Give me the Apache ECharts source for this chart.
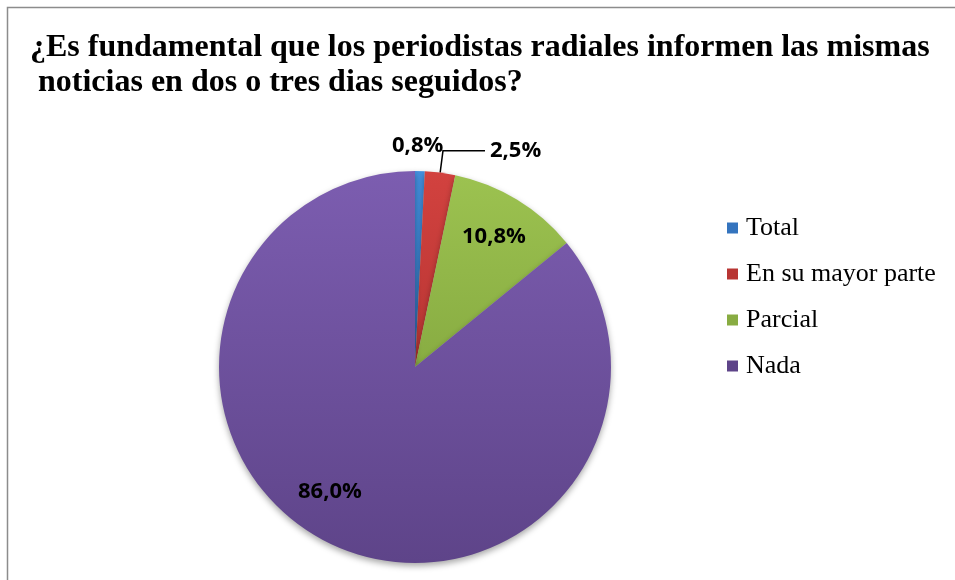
<!DOCTYPE html>
<html>
<head>
<meta charset="utf-8">
<script src="https://cdn.jsdelivr.net/npm/echarts@6/dist/echarts.min.js"></script>
<style>
  html, body { margin: 0; padding: 0; background: #fff; }
  #chart { width: 955px; height: 580px; }
</style>
</head>
<body>
<div id="chart"></div>
<script>
// datos del gráfico
var categories = ['Total', 'En su mayor parte', 'Parcial', 'Nada'];
var values = [0.8, 2.5, 10.8, 86.0];
var colorsTop = ['#4390DE', '#D2423F', '#9CC250', '#7C5DB0'];
var colorsBottom = ['#3474BE', '#B83533', '#88AC42', '#5E4489'];
// dónde va cada etiqueta: 'line' = fuera con línea guía, 'above' = encima del borde, 'inner' = dentro
var labelPlace = ['above', 'line', 'inner', 'inner'];

var chart = echarts.init(document.getElementById('chart'));

function fmt(v) {
  return v.toFixed(1).replace('.', ',') + '%';
}

var labelFont = {
  fontFamily: '"Open Sans", "Liberation Sans", sans-serif',
  fontWeight: 'bold',
  fontSize: 22,
  color: '#000'
};

function ringData(place) {
  return categories.map(function (name, i) {
    return {
      name: name,
      value: values[i],
      itemStyle: {color: 'rgba(0,0,0,0)'},
      label: {show: labelPlace[i] === place}
    };
  });
}

var pieData = categories.map(function (name, i) {
  return {
    name: name,
    value: values[i],
    itemStyle: {
      color: new echarts.graphic.LinearGradient(0, 0, 0, 1, [
        {offset: 0, color: colorsTop[i]},
        {offset: 1, color: colorsBottom[i]}
      ])
    },
    label: {show: labelPlace[i] === 'line'},
    labelLine: {show: labelPlace[i] === 'line'}
  };
});

var ringBase = {
  type: 'pie',
  center: [415, 367],
  startAngle: 90,
  clockwise: true,
  avoidLabelOverlap: false,
  silent: true,
  labelLine: {show: false}
};

var option = {
  animation: false,
  backgroundColor: '#fff',
  title: {
    text: '¿Es fundamental que los periodistas radiales informen las mismas\n noticias en dos o tres dias seguidos?',
    left: 25,
    top: 25,
    textStyle: {
      fontFamily: '"Liberation Serif", "Times New Roman", serif',
      fontWeight: 'bold',
      fontSize: 32,
      lineHeight: 35,
      color: '#000'
    }
  },
  legend: {
    orient: 'vertical',
    left: 722,
    top: 210,
    icon: 'rect',
    itemWidth: 11,
    itemHeight: 11,
    itemGap: 20,
    selectedMode: false,
    data: categories.map(function (name, i) {
      return {name: name, itemStyle: {color: colorsBottom[i]}};
    }),
    textStyle: {
      fontFamily: '"Liberation Serif", "Times New Roman", serif',
      fontSize: 26,
      lineHeight: 26,
      color: '#000',
      padding: [0, 0, 0, 3]
    }
  },
  graphic: [{
    type: 'rect',
    shape: {x: 7.5, y: 7.5, width: 1200, height: 1200},
    style: {fill: 'none', stroke: '#8c8c8c', lineWidth: 1.5},
    silent: true
  }],
  series: [
    {
      type: 'pie',
      center: [415, 367],
      radius: 196,
      startAngle: 90,
      clockwise: true,
      avoidLabelOverlap: false,
      silent: true,
      itemStyle: {
        shadowBlur: 6,
        shadowOffsetY: 3,
        shadowColor: 'rgba(0,0,0,0.35)'
      },
      label: Object.assign({
        position: 'outside',
        formatter: function (p) { return fmt(p.value); }
      }, labelFont),
      labelLine: {
        length: 22,
        length2: 42,
        lineStyle: {color: '#000', width: 1.5}
      },
      data: pieData
    },
    // anillo transparente: etiquetas dentro de los sectores
    Object.assign({}, ringBase, {
      radius: [102, 196],
      label: Object.assign({
        position: 'inside',
        formatter: function (p) { return fmt(p.value); }
      }, labelFont),
      labelLayout: function (params) {
        if (params.dataIndex === 3) {
          return {dx: -20, dy: -13};
        }
        return {};
      },
      data: ringData('inner')
    }),
    // anillo transparente exterior: etiqueta encima del sector pequeño
    Object.assign({}, ringBase, {
      radius: [201, 243],
      label: Object.assign({
        position: 'inside',
        formatter: function (p) { return fmt(p.value); }
      }, labelFont),
      labelLayout: function (params) {
        return {dx: -3, dy: 4};
      },
      data: ringData('above')
    })
  ]
};

chart.setOption(option);
</script>
</body>
</html>
